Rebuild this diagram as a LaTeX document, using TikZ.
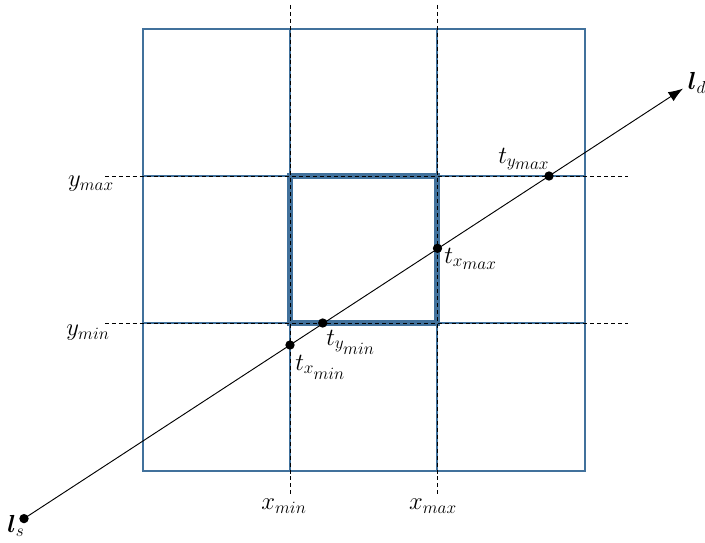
\documentclass[tikz,border=0pt]{standalone}
\usepackage{fix-cm}
\usepackage{amsmath,bm}
\usetikzlibrary{arrows.meta}
\definecolor{gridblue}{RGB}{65,113,156}
\tikzset{
  gridline/.style={draw=gridblue,line width=1.7pt},
  boxline/.style={draw=gridblue,line width=4.4pt},
  guide/.style={draw=black,line width=0.6pt,dash pattern=on 3pt off 2.2pt},
  ray/.style={draw=black,line width=0.7pt},
  dot/.style={circle,fill=black,inner sep=0pt,minimum size=7pt},
  lbl/.style={font=\fontsize{18.5}{22}\selectfont,inner sep=0pt},
  tlbl/.style={lbl,anchor=base west}
}
\newcommand{\sbs}[1]{{\scriptstyle #1}}
\begin{document}
\begin{tikzpicture}[x=0.75pt,y=-0.75pt]
\useasboundingbox (0,0) rectangle (705,542);
% grid
\draw[gridline] (143,29) rectangle (585,471);
\draw[gridline] (290,29) -- (290,471);
\draw[gridline] (437,29) -- (437,471);
\draw[gridline] (143,176) -- (585,176);
\draw[gridline] (143,323) -- (585,323);
\draw[boxline] (290,176) rectangle (437,323);
% dashed guides
\coordinate (vxa) at (290,5);   \coordinate (vxb) at (290,495);
\coordinate (wxa) at (437,5);   \coordinate (wxb) at (437,495);
\coordinate (hya) at (105,176); \coordinate (hyb) at (628,176);
\coordinate (gya) at (105,323); \coordinate (gyb) at (628,323);
\draw[guide] (vxa) -- (vxb);
\draw[guide] (wxa) -- (wxb);
\draw[guide] (hya) -- (hyb);
\draw[guide] (gya) -- (gyb);
% ray
\node[dot] (ls) at (24,518.6) {};
\coordinate (ld) at (683,88.6);
\draw[ray,-{Latex[length=11pt,width=8pt]}] (ls.center) -- (ld);
\node[dot] (txmin) at (290,345) {};
\node[dot] (tymin) at (322.7,323) {};
\node[dot] (txmax) at (437.5,248.3) {};
\node[dot] (tymax) at (549,176) {};
% labels
\node[lbl] (lymax) at (91,184) {$y_{max}$};
\node[lbl] (lymin) at (88,333) {$y_{min}$};
\node[lbl] (lxmin) at (284,506) {$x_{min}$};
\node[lbl] (lxmax) at (433,506) {$x_{max}$};
\node[lbl] (lls) at (16,526) {$\boldsymbol{l}_s$};
\node[lbl] (lld) at (697,83) {$\boldsymbol{l}_d$};
\node[tlbl] (ltymax) at (498,163) {$t_{y_{\sbs{max}}}$};
\node[tlbl] (ltxmax) at (444,263) {$t_{x_{\sbs{max}}}$};
\node[tlbl] (ltymin) at (326,345) {$t_{y_{\sbs{min}}}$};
\node[tlbl] (ltxmin) at (295,370) {$t_{x_{\sbs{min}}}$};
\end{tikzpicture}
\end{document}
